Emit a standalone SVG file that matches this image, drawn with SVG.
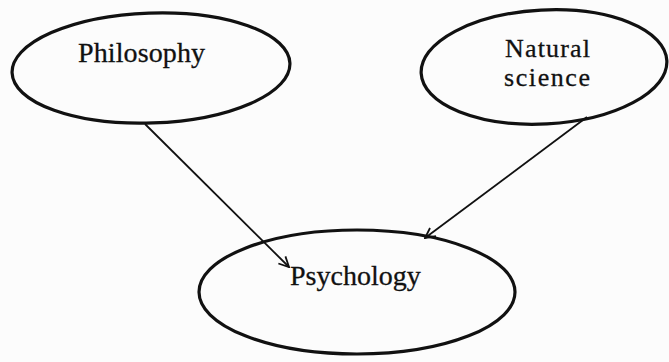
<svg xmlns="http://www.w3.org/2000/svg" width="669" height="362" viewBox="0 0 669 362">
<style>
.node{fill:none;stroke:#111;stroke-width:3.2}
.lbl{font-family:"Liberation Serif","Times New Roman",serif;font-size:28px;fill:#111;stroke:#111;stroke-width:0.3}
.sm{font-size:26px}
.edge{fill:none;stroke:#111;stroke-width:1.8}
</style>
<defs>
<marker id="arr" viewBox="0 0 12 12" refX="11" refY="6" markerWidth="12" markerHeight="12" markerUnits="userSpaceOnUse" orient="auto">
<path d="M1,1 L11,6 L1,11" fill="none" stroke="#111" stroke-width="1.8"/>
</marker>
</defs>
<rect width="669" height="362" fill="#fcfcfc"/>
<g id="philosophy">
<ellipse class="node" cx="151" cy="68" rx="139" ry="55" transform="rotate(-2 151 68)"/>
<text class="lbl" x="78" y="62" textLength="127">Philosophy</text>
</g>
<g id="natural-science">
<ellipse class="node" cx="544" cy="67" rx="123" ry="57" transform="rotate(-3 544 67)"/>
<text class="lbl sm" x="505" y="57" textLength="85">Natural</text>
<text class="lbl sm" x="504" y="86" textLength="86">science</text>
</g>
<g id="psychology">
<ellipse class="node" cx="357" cy="292" rx="158" ry="62"/>
<text class="lbl" x="290" y="285">Psychology</text>
</g>
<g id="connectors">
<line class="edge" x1="145" y1="124" x2="289" y2="267" marker-end="url(#arr)"/>
<line class="edge" x1="587" y1="117" x2="425" y2="238" marker-end="url(#arr)"/>
</g>
</svg>
